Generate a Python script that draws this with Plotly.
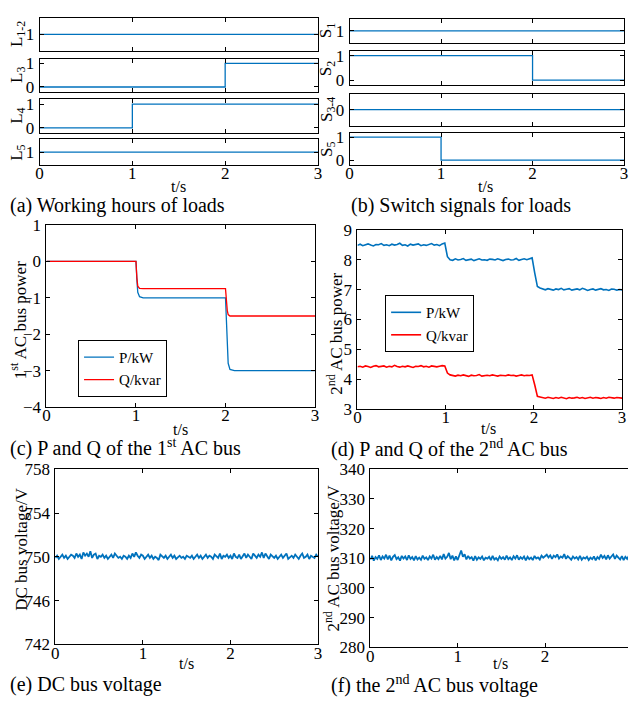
import plotly.graph_objects as go

# ---------------- data ----------------
# (a) working hours of loads
t_L12 = [0, 3];          L12 = [1, 1]
t_L3 = [0, 2, 2, 3];     L3 = [0, 0, 1, 1]
t_L4 = [0, 1, 1, 3];     L4 = [0, 0, 1, 1]
t_L5 = [0, 3];           L5 = [1, 1]
# (b) switch signals
t_S1 = [0, 3];           S1 = [1, 1]
t_S2 = [0, 2, 2, 3];     S2 = [1, 1, 0, 0]
t_S34 = [0, 3];          S34 = [0, 0]
t_S5 = [0, 1, 1, 3];     S5 = [1, 1, 0, 0]
# (c) 1st AC bus power
t_c = [0, 1.0, 1.01, 1.02, 1.04, 1.08, 2.0, 2.01, 2.02, 2.03, 2.05, 2.1, 3.0]
P1 = [0, 0, -0.5, -0.85, -0.97, -1.0, -1.0, -1.6, -2.3, -2.8, -2.97, -3.0, -3.0]
Q1 = [0, 0, -0.45, -0.68, -0.74, -0.75, -0.75, -1.1, -1.35, -1.46, -1.5, -1.5, -1.5]
# (d) 2nd AC bus power (sampled every 0.03 s)
t_d = [round(i * 0.03, 2) for i in range(101)]
P2 = [8.48, 8.52, 8.47, 8.50, 8.53, 8.49, 8.46, 8.51, 8.50, 8.54, 8.48, 8.50, 8.47, 8.52, 8.49, 8.51, 8.55,
      8.48, 8.50, 8.46, 8.52, 8.49, 8.51, 8.53, 8.47, 8.50, 8.48, 8.52, 8.54, 8.49, 8.51, 8.47, 8.53, 8.56,
      8.10,
      8.00, 7.98, 8.03, 7.99, 8.01, 8.04, 7.98, 8.00, 8.02, 7.97, 8.01, 8.03, 7.99, 8.00, 7.98, 8.02,
      8.01, 7.99, 8.03, 8.00, 7.97, 8.01, 8.02, 7.99, 8.00, 8.04, 7.98, 8.01, 8.03, 8.00, 8.02, 8.06,
      7.55, 7.10,
      7.05, 7.02, 6.99, 7.03, 7.01, 6.98, 7.02, 7.00, 7.04, 6.99, 7.01, 7.03, 6.98, 7.00, 7.02, 6.99,
      7.04, 7.01, 6.97, 7.00, 7.02, 6.98, 7.01, 7.03, 6.99, 7.00, 6.97, 7.02, 7.01, 6.98, 7.00, 6.99]
Q2 = [4.41, 4.43, 4.40, 4.44, 4.42, 4.39, 4.43, 4.45, 4.41, 4.42, 4.44, 4.40, 4.43, 4.41, 4.46, 4.42, 4.40,
      4.43, 4.41, 4.44, 4.42, 4.39, 4.43, 4.42, 4.45, 4.41, 4.43, 4.40, 4.44, 4.42, 4.41, 4.43, 4.45, 4.44,
      4.20,
      4.14, 4.12, 4.10, 4.13, 4.11, 4.14, 4.12, 4.09, 4.13, 4.11, 4.12, 4.15, 4.10, 4.12, 4.13, 4.11,
      4.14, 4.12, 4.10, 4.13, 4.12, 4.11, 4.14, 4.12, 4.13, 4.10, 4.12, 4.14, 4.11, 4.13, 4.12, 4.14,
      3.80, 3.42,
      3.40, 3.38, 3.36, 3.39, 3.37, 3.35, 3.38, 3.36, 3.39, 3.37, 3.34, 3.38, 3.36, 3.37, 3.39, 3.36,
      3.38, 3.35, 3.37, 3.39, 3.36, 3.38, 3.37, 3.35, 3.38, 3.36, 3.39, 3.37, 3.36, 3.38, 3.37, 3.36]
# (e) DC bus voltage and (f) 2nd AC bus voltage (sampled every 0.02 s)
t_ef = [round(i * 0.02, 2) for i in range(151)]
Vdc = [749.9, 750.1, 749.8, 750.0, 750.2, 749.9, 750.1, 749.8, 750.0, 750.2,
       750.1, 749.9, 750.3, 750.0, 750.2, 749.8, 750.4, 750.1, 750.3, 750.0,
       750.5, 749.9, 750.2, 750.3, 749.8, 750.1, 750.0, 750.2, 749.9, 750.1,
       749.8, 750.0, 750.2, 749.9, 750.3, 750.1, 749.9, 750.0, 749.8, 750.1,
       750.0, 749.8, 750.1, 749.9, 750.3, 750.0, 750.4, 750.1, 749.9, 750.2,
       750.1, 749.8, 750.0, 750.2, 749.9, 750.1, 749.8, 750.0, 749.9, 749.7,
       750.2, 750.0, 749.9, 750.1, 749.8, 750.0, 750.2, 749.9, 750.1, 749.8,
       750.0, 750.1, 749.9, 750.0, 749.8, 750.1, 750.0, 749.9, 750.1, 749.8,
       750.0, 750.2, 749.9, 750.1, 749.8, 750.0, 750.2, 749.9, 750.1, 750.0,
       749.8, 750.2, 750.0, 749.9, 750.3, 749.8, 750.1, 750.0, 750.2, 749.9,
       750.1, 749.8, 750.3, 750.0, 749.9, 750.2, 749.8, 750.1, 750.3, 749.9,
       750.2, 750.0, 749.8, 750.3, 750.1, 749.9, 750.2, 750.0, 750.4, 749.9,
       750.3, 750.1, 749.8, 750.2, 750.0, 749.9, 750.1, 749.8, 750.0, 750.2,
       749.9, 750.1, 750.3, 749.8, 750.0, 750.1, 749.9, 750.2, 750.0, 749.8,
       750.1, 750.3, 749.9, 750.0, 750.2, 749.8, 750.1, 750.0, 749.9, 750.2, 750.0]
Vac2 = [309.5, 310.8, 309.2, 310.4, 309.8, 311.0, 309.4, 310.6, 309.9, 311.2,
        309.6, 310.9, 309.3, 310.5, 311.1, 309.7, 310.3, 309.2, 310.8, 309.9,
        310.6, 309.4, 311.0, 309.8, 310.4, 309.3, 310.7, 309.6, 310.2, 309.5,
        310.9, 309.8, 310.3, 309.4, 310.6, 309.9, 311.2, 309.5, 310.4, 309.7,
        310.8, 309.6, 311.4, 309.9, 310.5, 311.8, 309.7, 310.9, 309.3, 310.6,
        309.4, 311.0, 312.6, 310.5, 311.3, 309.6, 310.8, 309.9, 310.4, 309.2,
        310.7, 309.5, 310.3, 309.8, 310.6, 309.3, 310.2, 309.9, 310.5, 309.4,
        310.8, 309.6, 310.1, 309.3, 310.6, 309.8, 310.4, 309.5, 310.9, 309.7,
        310.3, 309.4, 310.7, 309.9, 311.0, 309.5, 310.4, 309.8, 310.6, 309.3,
        310.5, 309.7, 310.2, 309.4, 310.8, 309.9, 310.3, 309.6, 310.9, 310.2,
        310.8, 311.2, 310.3, 311.0, 309.8, 310.9, 310.4, 311.3, 309.9, 310.6,
        310.2, 311.4, 309.8, 310.7, 310.1, 309.5, 310.6, 309.9, 310.4, 309.6,
        310.8, 309.5, 310.3, 309.9, 310.5, 309.4, 310.2, 309.7, 310.6, 309.3,
        310.4, 309.8, 311.2, 310.1, 310.8, 309.6, 311.0, 309.9, 310.6, 311.3,
        309.8, 310.9, 310.2, 309.6, 310.7, 309.4, 310.5, 309.8, 310.8, 309.6, 310.3]

x_ticks = [0, 1, 2, 3]

# ---------------- layout helpers ----------------
W, H = 632, 704
FONT = "Liberation Serif"
BLUE = "#0072BD"
RED = "#FF0000"


def fx(p):
    return p / W


def fy(p):
    return 1 - p / H


fig = go.Figure()
annotations = []


def add_panel(idx, xpx, ypx, xr, yr, ytickvals, xlabels, ymirror=True):
    xs = "" if idx == 1 else str(idx)
    common = dict(showline=True, linecolor="black", linewidth=1, ticks="inside",
                  ticklen=4, tickcolor="black", tickwidth=1, showgrid=False,
                  zeroline=False, tickfont=dict(family=FONT, size=17, color="black"))
    fig.layout["xaxis" + xs] = dict(domain=[fx(xpx[0]), min(1, fx(xpx[1]))], range=xr,
                                    anchor="y" + xs, tickvals=x_ticks,
                                    showticklabels=xlabels, mirror="allticks",
                                    ticklabelstandoff=-7, **common)
    fig.layout["yaxis" + xs] = dict(domain=[fy(ypx[1]), fy(ypx[0])], range=yr,
                                    anchor="x" + xs, tickvals=ytickvals,
                                    mirror="allticks" if ymirror else False,
                                    ticklabelstandoff=1, **common)
    return "x" + xs, "y" + xs


def line(xa, ya, x, y, color=BLUE, width=1.3, name=None, legend=None):
    fig.add_trace(go.Scatter(x=x, y=y, xaxis=xa, yaxis=ya, mode="lines",
                             line=dict(color=color, width=width),
                             name=name, showlegend=legend is not None,
                             legend=legend if legend else "legend"))


def text(x, y, s, size=17, angle=0, xanchor="center"):
    annotations.append(dict(x=fx(x), y=fy(y), xref="paper", yref="paper", text=s,
                            showarrow=False, textangle=angle, xanchor=xanchor,
                            yanchor="middle",
                            font=dict(family=FONT, size=size, color="black")))


# (a)
ax = add_panel(1, (36, 318), (9, 43), [0, 3], [0.4, 1.6], [1], False)
line(*ax, t_L12, L12)
ax = add_panel(2, (36, 318), (51, 85), [0, 3], [-0.2, 1.2], [0, 1], False)
line(*ax, t_L3, L3)
ax = add_panel(3, (36, 318), (93, 127), [0, 3], [-0.2, 1.2], [0, 1], False)
line(*ax, t_L4, L4)
ax = add_panel(4, (36, 318), (134, 160), [0, 3], [0.4, 1.6], [1], True)
line(*ax, t_L5, L5)
# (b)
ax = add_panel(5, (350, 628), (10, 35), [0, 3], [0.4, 1.6], [1], False)
line(*ax, t_S1, S1)
ax = add_panel(6, (350, 628), (43, 78), [0, 3], [-0.2, 1.2], [0, 1], False)
line(*ax, t_S2, S2)
ax = add_panel(7, (350, 628), (87, 120), [0, 3], [-0.6, 0.6], [0], False)
line(*ax, t_S34, S34)
ax = add_panel(8, (350, 628), (127, 160), [0, 3], [-0.2, 1.2], [0, 1], True)
line(*ax, t_S5, S5)
# (c)
ax = add_panel(9, (43, 315), (222, 409), [0, 3], [-4, 1], [-4, -3, -2, -1, 0, 1], True)
line(*ax, t_c, P1, BLUE, 1.3, "P/kW", "legend")
line(*ax, t_c, Q1, RED, 1.3, "Q/kvar", "legend")
# (d)
ax = add_panel(10, (358, 626), (227, 411), [0, 3], [3, 9], [3, 4, 5, 6, 7, 8, 9], True)
line(*ax, t_d, P2, BLUE, 1.6, "P/kW", "legend2")
line(*ax, t_d, Q2, RED, 1.6, "Q/kvar", "legend2")
# (e)
ax = add_panel(11, (52, 318), (473, 653), [0, 3], [742, 758], [742, 746, 750, 754, 758], True)
line(*ax, t_ef, Vdc, BLUE, 1.8)
# (f)
ax = add_panel(12, (371, 632), (473, 656), [0, 2.95], [280, 340],
               [280, 290, 300, 310, 320, 330, 340], True, ymirror=False)
line(*ax, t_ef, Vac2, BLUE, 1.8)

# axis titles
text(14, 26, "L<sub>1-2</sub>", 17, -90)
text(14, 68, "L<sub>3</sub>", 17, -90)
text(14, 110, "L<sub>4</sub>", 17, -90)
text(14, 148, "L<sub>5</sub>", 17, -90)
text(328, 22, "S<sub>1</sub>", 17, -90)
text(328, 61, "S<sub>2</sub>", 17, -90)
text(328, 103, "S<sub>3-4</sub>", 17, -90)
text(328, 144, "S<sub>5</sub>", 17, -90)
text(15, 320, "1<sup>st</sup> AC bus power", 17, -90)
text(335, 334, "2<sup>nd</sup> AC bus power", 17, -90)
text(17, 555, "DC bus voltage/V", 17, -90)
text(332, 564, "2<sup>nd</sup> AC bus voltage/V", 17, -90)
# t/s labels
for x, y in [(177, 182), (488, 182), (179, 432), (491, 431), (185, 673), (503, 673)]:
    text(x, y, "t/s", 16)
# captions
text(4, 202, "(a) Working hours of loads", 20, 0, "left")
text(349, 202, "(b) Switch signals for loads", 20, 0, "left")
text(4, 451, "(c) P and Q of the 1<sup>st</sup> AC bus", 20, 0, "left")
text(329, 452, "(d) P and Q of the 2<sup>nd</sup> AC bus", 20, 0, "left")
text(4, 694, "(e) DC bus voltage", 20, 0, "left")
text(329, 694, "(f) the 2<sup>nd</sup> AC bus voltage", 20, 0, "left")

legend_style = dict(bgcolor="white", bordercolor="black", borderwidth=1,
                    font=dict(family=FONT, size=15, color="black"),
                    xanchor="left", yanchor="top", itemwidth=30, tracegroupgap=0)
fig.update_layout(
    width=W, height=H, margin=dict(l=0, r=0, t=0, b=0),
    paper_bgcolor="white", plot_bgcolor="white",
    annotations=annotations,
    legend=dict(x=fx(75), y=fy(340), **legend_style),
    legend2=dict(x=fx(386), y=fy(294), **legend_style),
)

fig.write_html("out.html")
